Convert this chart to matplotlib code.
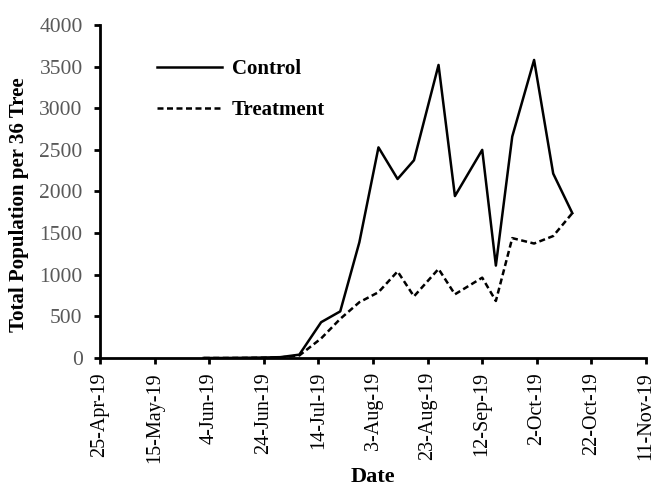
import matplotlib
matplotlib.use("Agg")
import matplotlib.pyplot as plt
import pandas as pd

plt.rcParams['font.family'] = ['Liberation Serif', 'DejaVu Serif']

# sampling dates
dates = pd.to_datetime([
    '2019-06-02', '2019-06-09', '2019-06-16', '2019-06-23', '2019-06-30',
    '2019-07-07', '2019-07-15', '2019-07-22', '2019-07-29', '2019-08-05',
    '2019-08-12', '2019-08-18', '2019-08-27', '2019-09-02', '2019-09-12',
    '2019-09-17', '2019-09-23', '2019-10-01', '2019-10-08', '2019-10-15',
])
control = [0, 0, 2, 5, 10, 40, 430, 560, 1390, 2530, 2150, 2375, 3520,
           1945, 2500, 1110, 2660, 3580, 2215, 1740]
treatment = [0, 0, 1, 3, 6, 30, 235, 470, 670, 790, 1040, 740, 1070,
             765, 965, 685, 1440, 1375, 1465, 1740]

tick_dates = pd.date_range('2019-04-25', '2019-11-11', freq='20D')
y_ticks = list(range(0, 4001, 500))

fig = plt.figure(figsize=(6.57, 4.88), dpi=100)
ax = fig.add_axes([0.1522, 0.2664, 0.8311, 0.6824])

ax.plot(dates, control, color='black', linewidth=1.8, label='Control')
ax.plot(dates, treatment, color='black', linewidth=1.8,
        linestyle=(0, (2.4, 1.4)), label='Treatment')

ax.set_xlim(tick_dates[0], tick_dates[-1])
ax.set_ylim(0, 4000)
ax.set_xticks(tick_dates)
ax.set_xticklabels([f"{d.day}-{d.strftime('%b-%y')}" for d in tick_dates],
                   rotation=90, fontsize=14.5, color='black')
ax.set_yticks(y_ticks)
ax.set_yticklabels([str(v) for v in y_ticks], fontsize=15.5, color='#595959')

for side in ['top', 'right']:
    ax.spines[side].set_visible(False)
for side in ['left', 'bottom']:
    ax.spines[side].set_linewidth(2)
ax.tick_params(axis='x', direction='out', length=4.5, width=2, pad=5.5)
ax.tick_params(axis='y', direction='out', length=4.5, width=2, pad=8)

ax.set_xlabel('Date', fontsize=16, fontweight='bold', labelpad=3)
ax.set_ylabel('Total Population per 36 Tree', fontsize=15, fontweight='bold')
ax.yaxis.set_label_coords(-0.13, 0.46)

leg = ax.legend(loc='upper left', bbox_to_anchor=(0.07, 0.954), frameon=False,
                handlelength=3.1, handletextpad=0.5, labelspacing=1.0,
                prop={'size': 15, 'weight': 'bold'})

fig.savefig('out.png', dpi=100)
